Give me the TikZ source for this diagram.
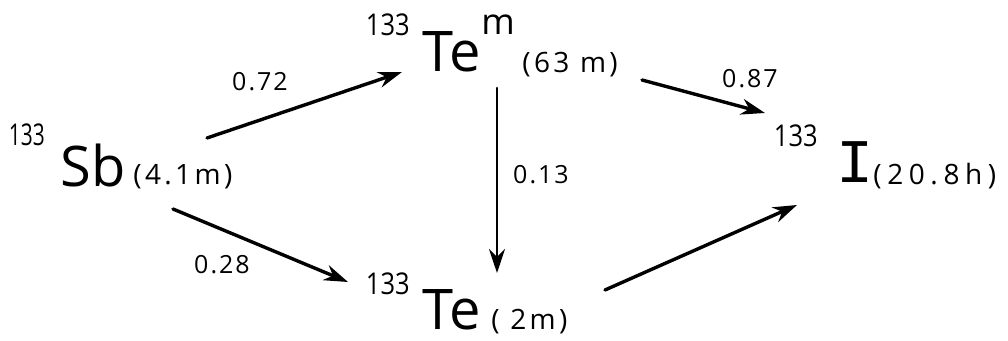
\documentclass[tikz,border=0pt]{standalone}
\usepackage{fontspec}
\setmainfont{Open Sans}
\newfontfamily\barfont{Liberation Mono}
\usetikzlibrary{arrows.meta, calc}

\begin{document}
\begin{tikzpicture}[x=0.5pt, y=-0.5pt, >=Stealth, line cap=round, line join=round]
  \useasboundingbox (0,0) rectangle (1008,341);

  \tikzset{
    nuc/.style={inner sep=0pt, anchor=base west, font=\fontsize{28}{30}\selectfont},
    mass/.style={inner sep=0pt, anchor=base east, transform shape, xscale=0.85,
      font=\fontsize{15}{17}\selectfont},
    life/.style={inner sep=0pt, anchor=base west,
      font=\fontsize{14}{16}\selectfont\addfontfeature{LetterSpace=12}},
    ratio/.style={inner sep=0pt, font=\fontsize{12.5}{14}\selectfont\addfontfeature{LetterSpace=8}},
    decay/.style={line width=1.7pt, -{Stealth[length=12pt, width=8pt]}}
  }

  % Sb (4.1 m)
  \node[nuc] (Sb) at (60,187) {Sb};
  \node[mass, xscale=0.82] (SbA) at (45,146) {133};
  \node[life] (SbT) at (133,185) {(4.1m)};

  % isomer Te^m (63 m)
  \node[nuc] (Tem) at (422,72) {Te};
  \node[mass] (TemA) at (410,36) {133};
  \node[inner sep=0pt, anchor=base west, font=\fontsize{18}{20}\selectfont] (TemM) at (481,35) {m};
  \node[life] (TemT) at (522,73) {(63 m)};

  % Te (2 m)
  \node[nuc] (Te) at (422,330) {Te};
  \node[mass] (TeA) at (410,295) {133};
  \node[life] (TeT) at (491,330) {( 2m)};

  % I (20.8 h)
  \node[nuc, font=\fontsize{31}{33}\barfont] (I) at (836,183) {I};
  \node[mass] (IA) at (818,147) {133};
  \node[life, font=\fontsize{14}{16}\selectfont\addfontfeature{LetterSpace=20}] (IT) at (873,185) {(20.8h)};

  % decay branches
  \draw[decay] ($(Sb.base west)+(147,-49)$) -- ($(Tem.base west)+(-20,0)$);
  \draw[decay] ($(Sb.base west)+(113,22)$) -- ($(Te.base west)+(-74,-48)$);
  \draw[decay, line width=1.3pt] ($(Tem.base west)+(75,16)$) -- ($(Te.base west)+(75,-57)$);
  \draw[decay] ($(Tem.base west)+(220,8)$) -- ($(I.base west)+(-71,-70)$);
  \draw[decay] ($(Te.base west)+(183,-40)$) -- ($(I.base west)+(-39,22)$);

  % branching ratios
  \node[ratio] (r1) at (260,82) {0.72};
  \node[ratio] (r2) at (222,265) {0.28};
  \node[ratio] (r3) at (541,175) {0.13};
  \node[ratio] (r4) at (750,79) {0.87};
\end{tikzpicture}
\end{document}
